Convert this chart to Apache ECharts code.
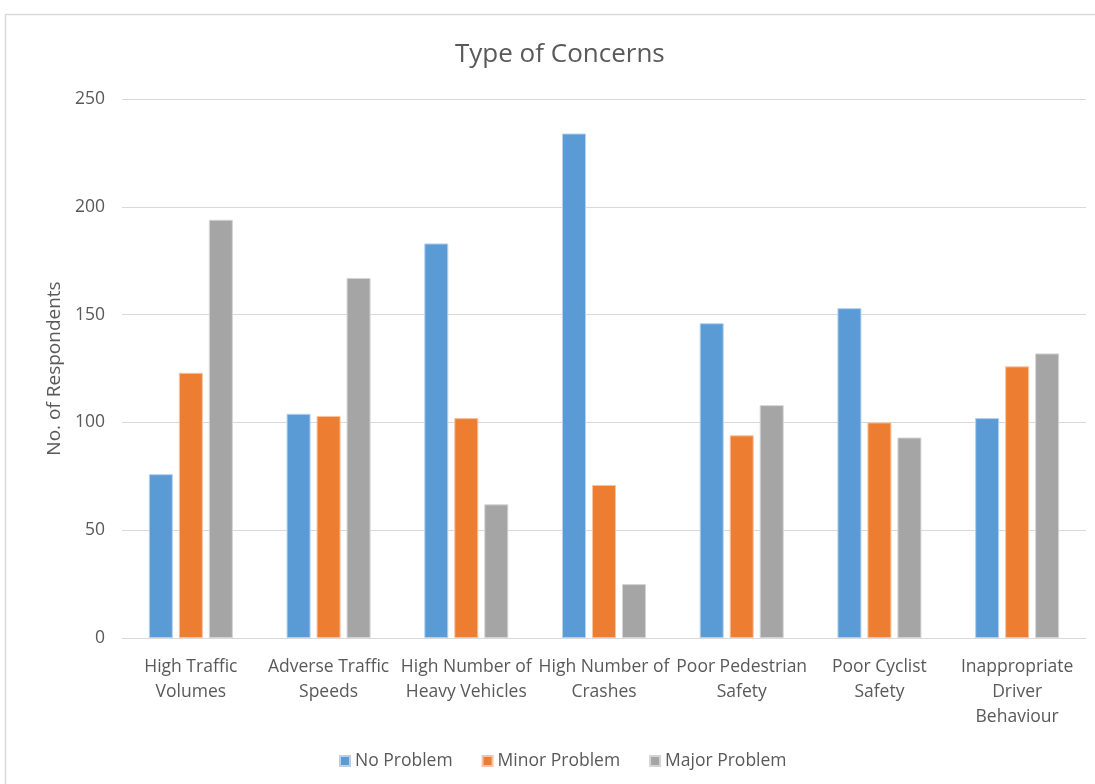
<!DOCTYPE html>
<html>
<head>
<meta charset="utf-8">
<script src="https://cdn.jsdelivr.net/npm/echarts@6/dist/echarts.min.js"></script>
<style>
html,body{margin:0;padding:0;background:#fff;}
#c{width:1095px;height:784px;}
</style>
</head>
<body>
<div id="c"></div>
<script>
const categories = [
  "High Traffic\nVolumes",
  "Adverse Traffic\nSpeeds",
  "High Number of\nHeavy Vehicles",
  "High Number of\nCrashes",
  "Poor Pedestrian\nSafety",
  "Poor Cyclist\nSafety",
  "Inappropriate\nDriver\nBehaviour"
];
const noProblem    = [76, 104, 183, 234, 146, 153, 102];
const minorProblem = [123, 103, 102, 71, 94, 100, 126];
const majorProblem = [194, 167, 62, 25, 108, 93, 132];
const yTicks = [0, 50, 100, 150, 200, 250];

const FONT = "'Open Sans', 'Liberation Sans', sans-serif";
const TXT = '#595959';

const chart = echarts.init(document.getElementById('c'), null, {renderer: 'canvas'});
function bar(name, data, color, border) {
  return {
    name: name, type: 'bar', data: data,
    barWidth: 24, barGap: '25%',
    itemStyle: {color: color, borderColor: border, borderWidth: 1},
    emphasis: {disabled: true}
  };
}
chart.setOption({
  animation: false,
  backgroundColor: '#fff',
  graphic: [{
    type: 'rect', silent: true, z: -10,
    shape: {x: 5.5, y: 14.5, width: 1200, height: 900},
    style: {fill: 'none', stroke: '#d9d9d9', lineWidth: 1.5}
  }],
  title: {
    text: 'Type of Concerns', left: 450, top: 37,
    textStyle: {fontFamily: FONT, fontSize: 26, fontWeight: 'normal', color: TXT}
  },
  legend: {
    bottom: 9, left: 334, itemWidth: 10, itemHeight: 10, itemGap: 29,
    icon: 'rect',
    textStyle: {fontFamily: FONT, fontSize: 17.5, color: TXT}
  },
  grid: {left: 122, right: 9, top: 99, bottom: 146, containLabel: false},
  xAxis: {
    type: 'category', data: categories,
    axisLine: {lineStyle: {color: '#d9d9d9', width: 1}},
    axisTick: {show: false},
    axisLabel: {fontFamily: FONT, fontSize: 17.5, color: TXT, lineHeight: 25, margin: 17, interval: 0}
  },
  yAxis: {
    type: 'value', min: yTicks[0], max: yTicks[yTicks.length - 1], interval: 50,
    name: 'No. of Respondents', nameLocation: 'middle', nameGap: 55, nameRotate: 90,
    nameTextStyle: {fontFamily: FONT, fontSize: 19, color: TXT},
    axisLine: {show: false}, axisTick: {show: false},
    splitLine: {lineStyle: {color: '#d9d9d9', width: 1}},
    axisLabel: {fontFamily: FONT, fontSize: 17.5, color: TXT, margin: 17}
  },
  series: [
    bar('No Problem', noProblem, '#5B9BD5', '#b5d1ee'),
    bar('Minor Problem', minorProblem, '#ED7D31', '#f7c3a2'),
    bar('Major Problem', majorProblem, '#A5A5A5', '#d4d4d4')
  ]
});
</script>
</body>
</html>
